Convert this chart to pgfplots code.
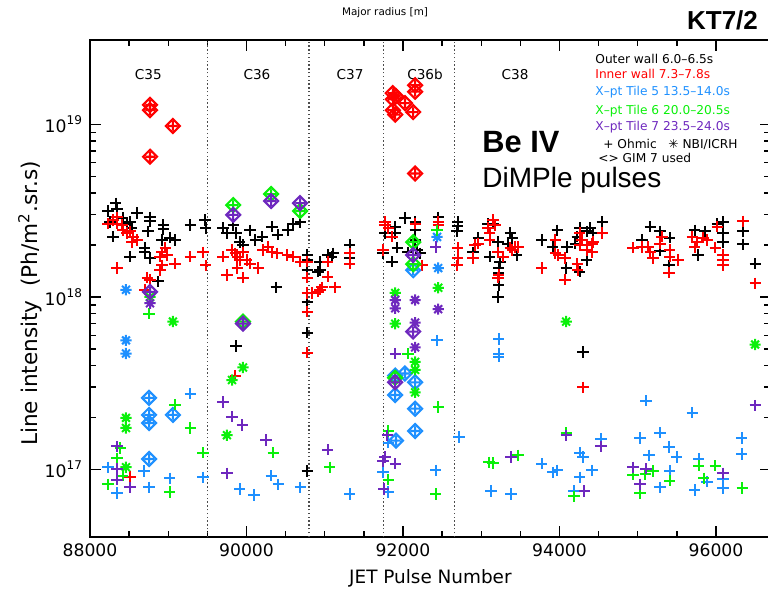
\documentclass[border=0pt]{standalone}
\usepackage{fontspec}
\setmainfont{Liberation Sans}
\newfontfamily\idl{DejaVu Sans}
\usepackage{pgfplots}
\pgfplotsset{compat=1.18}

\definecolor{tileblue}{RGB}{30,144,255}
\definecolor{tilegreen}{RGB}{10,240,10}
\definecolor{tilepurple}{RGB}{110,40,190}
\definecolor{innerred}{RGB}{255,0,0}

% NBI/ICRH symbol: eight-pointed asterisk
\pgfdeclareplotmark{heated}{%
  \pgfpathmoveto{\pgfqpoint{-\pgfplotmarksize}{0pt}}%
  \pgfpathlineto{\pgfqpoint{\pgfplotmarksize}{0pt}}%
  \pgfpathmoveto{\pgfqpoint{0pt}{-\pgfplotmarksize}}%
  \pgfpathlineto{\pgfqpoint{0pt}{\pgfplotmarksize}}%
  \pgfpathmoveto{\pgfqpoint{-0.7\pgfplotmarksize}{-0.7\pgfplotmarksize}}%
  \pgfpathlineto{\pgfqpoint{0.7\pgfplotmarksize}{0.7\pgfplotmarksize}}%
  \pgfpathmoveto{\pgfqpoint{-0.7\pgfplotmarksize}{0.7\pgfplotmarksize}}%
  \pgfpathlineto{\pgfqpoint{0.7\pgfplotmarksize}{-0.7\pgfplotmarksize}}%
  \pgfusepathqstroke}
% GIM 7 symbol: diamond round a plus
\pgfdeclareplotmark{gimdiamond}{%
  \pgfpathmoveto{\pgfqpoint{-1.25\pgfplotmarksize}{0pt}}%
  \pgfpathlineto{\pgfqpoint{0pt}{1.25\pgfplotmarksize}}%
  \pgfpathlineto{\pgfqpoint{1.25\pgfplotmarksize}{0pt}}%
  \pgfpathlineto{\pgfqpoint{0pt}{-1.25\pgfplotmarksize}}%
  \pgfpathclose
  \pgfpathmoveto{\pgfqpoint{-0.85\pgfplotmarksize}{0pt}}%
  \pgfpathlineto{\pgfqpoint{0.85\pgfplotmarksize}{0pt}}%
  \pgfpathmoveto{\pgfqpoint{0pt}{-0.85\pgfplotmarksize}}%
  \pgfpathlineto{\pgfqpoint{0pt}{0.85\pgfplotmarksize}}%
  \pgfusepathqstroke}

\pgfplotsset{
  ohmic/.style={only marks, mark=+, mark size=2.8pt, mark options={line width=1pt}, color=#1},
  nbicrh/.style={only marks, mark=heated, mark size=2.8pt, mark options={line width=1pt}, color=#1},
  gim/.style={only marks, mark=gimdiamond, mark size=2.8pt, mark options={line width=1.05pt}, color=#1},
  campaign/.style={black!70, line width=0.7pt, dash pattern=on 0.7pt off 1.2pt},
}

\begin{document}
\begin{tikzpicture}
\begin{axis}[
  at={(45pt,26pt)}, anchor=south west,
  scale only axis, width=340.4pt, height=248.5pt,
  xmin=88000, xmax=96700,
  ymode=log, ymin=4.06e16, ymax=3.09e19,
  xtick={88000,90000,92000,94000,96000},
  xticklabels={88000,90000,92000,94000,96000},
  scaled x ticks=false,
  minor x tick num=3,
  ytick={1e17,1e18,1e19},
  yticklabels={10\textsuperscript{17},10\textsuperscript{18},10\textsuperscript{19}},
  tick align=inside, xtick pos=both, ytick pos=both,
  major tick length=5.5pt, minor tick length=3.2pt,
  every tick/.style={black, line width=0.7pt},
  axis line style={line width=0.85pt},
  ticklabel style={font=\idl\fontsize{8.6}{10}\selectfont},
  xlabel={JET Pulse Number},
  ylabel={Line intensity\ \ (Ph/m\textsuperscript{2}.sr.s)},
  xlabel style={font=\idl\fontsize{9.2}{11}\selectfont, at={(axis description cs:0.5,0)}, anchor=center, yshift=-20.5pt},
  ylabel style={font=\idl\fontsize{10.8}{12}\selectfont, at={(axis description cs:-0.088,0.47)}, anchor=center},
]

% campaign boundaries
\addplot[campaign] coordinates {(89500,4.06e16) (89500,3.09e19)};
\addplot[campaign] coordinates {(90800,4.06e16) (90800,3.09e19)};
\addplot[campaign] coordinates {(91750,4.06e16) (91750,3.09e19)};
\addplot[campaign] coordinates {(92660,4.06e16) (92660,3.09e19)};

% Outer wall 6.0-6.5 s
\addplot[ohmic=black] coordinates {
(88230,3.15e18) (88330,3.5e18) (88345,3.25e18) (88255,2.72e18) (88420,2.87e18)
(88470,2.66e18) (88510,2.72e18) (88600,3.07e18) (88535,2.51e18) (88295,2.23e18)
(88767,2.9e18) (88767,2.75e18) (88740,2.4e18) (88700,1.93e18) (88700,1.82e18)
(88510,1.71e18) (88767,1.68e18) (88920,2.14e18) (88935,2.61e18) (88935,2.47e18)
(89020,2.2e18) (89085,2.14e18) (88870,1.23e18) (89280,2.61e18) (89470,2.79e18)
(89480,2.51e18) (89700,2.51e18) (89830,2.61e18) (89750,2.35e18) (89865,2.35e18)
(89915,2.08e18) (89955,2.0e18) (90045,2.44e18) (90110,2.14e18) (90200,2.23e18)
(90325,2.55e18) (90400,2.29e18) (90530,2.44e18) (90595,2.66e18) (90685,2.72e18)
(90775,1.75e18) (90775,1.64e18) (90775,1.43e18) (90380,1.14e18) (90775,9.3e17)
(90775,6.2e17) (90915,1.4e18) (89865,5.2e17) (90775,9.8e16) (90940,1.43e18)
(90940,1.6e18) (91040,1.75e18) (91105,1.79e18) (91090,1.71e18) (91320,2.0e18)
(91320,1.68e18) (91770,2.35e18) (91745,1.79e18) (91900,2.55e18) (91900,2.35e18)
(91925,1.93e18) (91860,1.6e18) (92025,2.87e18) (92155,2.72e18) (92155,2.44e18)
(92155,2.14e18) (92180,1.87e18) (92220,1.79e18) (92065,1.82e18) (92450,2.9e18)
(92700,2.72e18) (92700,2.57e18) (92690,2.4e18) (92895,1.82e18) (92960,2.2e18)
(93085,2.66e18) (93150,2.66e18) (93110,1.71e18) (93215,2.08e18) (93240,1.6e18)
(93225,1.47e18) (93225,1.38e18) (93225,1.17e18) (93215,1.0e18) (93370,2.35e18)
(93395,2.2e18) (93340,2.04e18) (93455,1.75e18) (93775,2.14e18) (93970,2.44e18)
(93915,1.95e18) (94095,1.95e18) (94085,1.47e18) (94225,2.23e18) (94200,2.04e18)
(94260,2.51e18) (94350,2.4e18) (94430,2.35e18) (94390,2.51e18) (94545,2.72e18)
(94350,1.64e18) (94260,1.4e18) (94300,4.8e17) (95055,2.14e18) (95160,2.55e18)
(95285,2.4e18) (95285,1.85e18) (95410,2.2e18) (95400,1.53e18) (95730,2.44e18)
(95860,2.4e18) (95770,1.75e18) (96015,2.66e18) (96090,2.72e18) (96090,2.35e18)
(96090,2.08e18) (96345,2.4e18) (96345,2.02e18) (96500,1.56e18)
};

% Inner wall 7.3-7.8 s
\addplot[ohmic=innerred] coordinates {
(88230,2.66e18) (88295,2.79e18) (88345,2.9e18) (88345,2.66e18) (88410,2.61e18)
(88420,2.44e18) (88470,2.35e18) (88510,2.4e18) (88550,2.23e18) (88600,2.14e18)
(88535,2.08e18) (88345,1.47e18) (88730,1.29e18) (88767,1.26e18) (88700,1.10e18)
(88895,1.71e18) (88920,1.82e18) (88960,1.93e18) (88985,1.75e18) (88895,1.43e18)
(88920,1.53e18) (89085,1.56e18) (89280,1.71e18) (89445,1.82e18) (89480,1.53e18)
(89700,1.71e18) (89750,1.34e18) (89815,1.87e18) (89855,1.79e18) (89880,1.71e18)
(89915,1.64e18) (89955,1.82e18) (90005,1.64e18) (90045,1.56e18) (89880,1.47e18)
(89955,1.29e18) (90150,1.47e18) (90210,1.87e18) (90275,1.95e18) (90325,1.82e18)
(90390,1.79e18) (90520,1.75e18) (90595,1.71e18) (90685,1.6e18) (90775,1.6e18)
(90775,1.29e18) (90775,1.055e18) (90775,8.2e17) (90840,1.055e18) (90915,1.07e18)
(90940,1.10e18) (90965,1.14e18) (91130,1.14e18) (91040,1.6e18) (91040,1.31e18)
(91320,1.79e18) (91320,1.56e18) (90775,4.75e17) (89855,3.5e17) (88510,9.1e16)
(91770,2.72e18) (91770,2.61e18) (91810,2.51e18) (91860,2.23e18) (91745,1.87e18)
(92155,2.66e18) (92245,1.53e18) (92450,2.72e18) (92450,2.61e18)
(92700,1.93e18) (92700,1.68e18) (92690,1.53e18) (92895,1.68e18) (92920,2.0e18)
(92960,2.04e18) (93085,2.51e18) (93110,2.35e18) (93150,2.79e18) (93110,2.14e18)
(93175,2.61e18) (93215,1.82e18) (93280,1.71e18) (93370,1.93e18) (93430,1.95e18)
(93395,1.87e18) (93470,1.95e18) (93225,1.34e18) (93215,1.29e18) (93775,1.47e18)
(93945,2.14e18) (93945,1.79e18) (93985,1.75e18) (94070,1.68e18) (94070,1.26e18)
(94225,1.56e18) (94235,1.43e18) (94260,2.35e18) (94285,2.14e18) (94260,2.0e18)
(94350,1.87e18) (94415,2.04e18) (94415,1.82e18) (94430,2.08e18) (94350,2.0e18)
(94545,2.35e18) (94300,3.0e17) (94940,1.93e18) (95055,1.95e18) (95130,1.95e18)
(95160,1.82e18) (95195,1.68e18) (95310,2.23e18) (95285,2.04e18) (95410,1.87e18)
(95410,1.71e18) (95515,1.64e18) (95400,1.38e18) (95695,2.23e18) (95755,2.08e18)
(95730,1.95e18) (95840,2.2e18) (95885,2.14e18) (95990,1.93e18) (96015,2.55e18)
(96090,1.75e18) (96090,1.64e18) (96090,1.53e18) (96345,2.75e18) (96500,1.2e18)
};
\addplot[gim=innerred] coordinates {
(88767,1.3e19) (88767,1.21e19) (89060,9.8e18) (88767,6.5e18)
(91870,1.52e19) (91870,1.4e19) (91910,1.46e19) (92025,1.33e19) (92155,1.69e19)
(92155,1.55e19) (91870,1.21e19) (91900,1.14e19) (92130,1.18e19) (92155,5.2e18)
};

% X-pt Tile 5 13.5-14.0 s
\addplot[ohmic=tileblue] coordinates {
(88230,1.03e17) (88345,7.3e16) (88690,9.8e16) (88755,7.9e16) (89020,8.9e16)
(89280,2.75e17) (89445,9.0e16) (89915,7.7e16) (90095,7.1e16) (90315,9.2e16)
(90405,8.2e16) (90685,7.9e16) (91040,1.30e17) (91320,7.2e16) (91810,1.43e17)
(91745,9.6e16) (91810,7.4e16) (92435,5.6e17) (92420,9.9e16) (92715,1.54e17)
(93225,5.7e17) (93225,4.7e17) (93225,4.5e17) (93125,7.5e16) (93380,7.2e16)
(93775,1.08e17) (93915,9.6e16) (93970,9.9e16) (94260,1.25e17) (94300,1.18e17)
(94260,9.0e16) (94415,9.9e16) (94185,7.5e16) (94530,1.5e17) (95030,1.52e17)
(95105,2.5e17) (95285,1.63e17) (95400,1.35e17) (95500,1.18e17) (95410,9.8e16)
(95285,7.9e16) (95145,1.21e17) (95695,2.13e17) (95730,7.6e16) (95780,1.15e17)
(95885,8.5e16) (96090,8.8e16) (96090,7.8e16) (96330,1.52e17) (96330,1.23e17)
};
\addplot[nbicrh=tileblue] coordinates {
(88460,1.1e18) (88460,5.6e17) (88460,4.7e17) (92435,2.23e18) (92450,1.47e18)
};
\addplot[gim=tileblue] coordinates {
(88755,2.6e17) (88755,2.07e17) (88755,1.86e17) (89060,2.07e17) (88755,1.15e17)
(92130,1.43e18) (91900,3.5e17) (92025,3.6e17) (92155,3.2e17) (91900,2.7e17)
(92155,2.25e17) (92155,1.67e17) (91910,1.47e17)
};

% X-pt Tile 6 20.0-20.5 s
\addplot[ohmic=tilegreen] coordinates {
(88385,1.33e17) (88345,1.16e17) (88420,9.2e16) (88230,8.2e16) (88755,8.0e17)
(89085,2.37e17) (89280,1.74e17) (89020,7.4e16) (89445,1.25e17) (90340,1.25e17)
(91065,1.03e17) (91810,1.67e17) (91810,8.7e16) (92065,4.7e17) (92435,2.44e18)
(92450,2.3e17) (92420,7.2e16) (93100,1.1e17) (93150,1.09e17) (93470,1.21e17)
(94085,1.63e17) (94185,7.0e16) (94940,9.3e16) (95095,9.4e16) (95195,9.8e16)
(95030,7.3e16) (95410,8.6e16) (95780,1.05e17) (95845,8.9e16) (95990,1.05e17)
(96335,7.8e16)
};
\addplot[nbicrh=tilegreen] coordinates {
(88460,1.99e17) (88460,1.74e17) (88460,1.03e17) (88767,1.0e18) (89060,7.2e17)
(89955,3.9e17) (89815,3.3e17) (89750,1.58e17) (91900,1.055e18) (91900,7.0e17)
(92155,4.2e17) (92155,3.78e17) (92155,2.8e17) (92450,1.13e18) (94085,7.2e17)
(96500,5.3e17)
};
\addplot[gim=tilegreen] coordinates {
(89830,3.41e18) (90315,3.95e18) (90685,3.15e18) (89955,7.2e17) (92130,2.08e18)
(92130,1.55e18) (91900,3.4e17)
};

% X-pt Tile 7 23.5-24.0 s
\addplot[ohmic=tilepurple] coordinates {
(88345,1.36e17) (88345,1.01e17) (88345,8.7e16) (88510,7.9e16) (89700,2.46e17)
(89815,2.02e17) (89945,1.81e17) (90250,1.48e17) (89750,9.5e16) (91040,1.30e17)
(91900,4.7e17) (91800,1.58e17) (91770,1.18e17) (91745,1.12e17) (91900,1.08e17)
(91755,7.7e16) (92420,1.95e18) (93380,1.18e17) (94085,1.58e17) (94530,1.36e17)
(94315,7.5e16) (94940,1.03e17) (95105,1.01e17) (95030,8.2e16) (96090,9.5e16)
(96500,2.35e17)
};
\addplot[nbicrh=tilepurple] coordinates {
(88767,9.2e17) (91900,9.6e17) (91900,8.6e17) (92155,9.6e17) (92155,7.1e17)
(92155,5.1e17) (92450,8.5e17)
};
\addplot[gim=tilepurple] coordinates {
(88767,1.07e18) (89830,2.99e18) (90315,3.6e18) (90685,3.5e18) (89955,7.0e17)
(92130,1.75e18) (92130,6.3e17) (91900,3.2e17)
};

% campaign names
\node[font=\idl\fontsize{6.8}{8}\selectfont] at (axis cs:88745,1.94e19) {C35};
\node[font=\idl\fontsize{6.8}{8}\selectfont] at (axis cs:90134,1.94e19) {C36};
\node[font=\idl\fontsize{6.8}{8}\selectfont] at (axis cs:91323,1.94e19) {C37};
\node[font=\idl\fontsize{6.8}{8}\selectfont] at (axis cs:92281,1.94e19) {C36b};
\node[font=\idl\fontsize{6.8}{8}\selectfont] at (axis cs:93432,1.94e19) {C38};
\end{axis}

% key to colours and symbols
\begin{scope}[every node/.style={anchor=west, inner sep=0pt, font=\idl\fontsize{6.1}{7}\selectfont}]
\node[black]      at (297.5pt,265pt)   {Outer wall 6.0–6.5s};
\node[innerred]   at (297.5pt,257.5pt) {Inner wall 7.3–7.8s};
\node[tileblue]   at (297.5pt,248.3pt) {X–pt Tile 5 13.5–14.0s};
\node[tilegreen]  at (297.5pt,239pt)   {X–pt Tile 6 20.0–20.5s};
\node[tilepurple] at (297.5pt,230.8pt) {X–pt Tile 7 23.5–24.0s};
\node[black]      at (301.5pt,222.5pt) {+ Ohmic\ \ \ ✳ NBI/ICRH};
\node[black]      at (299pt,215.3pt)   {<> GIM 7 used};
\end{scope}

\node[font=\idl\fontsize{5.2}{6}\selectfont] at (192.5pt,288pt) {Major radius [m]};
\node[anchor=east, font=\bfseries\fontsize{13}{15}\selectfont] at (382.5pt,284.5pt) {KT7/2};
\node[anchor=west, inner sep=0pt, font=\bfseries\fontsize{15.4}{18}\selectfont] at (241pt,223.5pt) {Be IV};
\node[anchor=west, inner sep=0pt, font=\fontsize{14}{17}\selectfont] at (241pt,204.5pt) {DiMPle pulses};

\pgfresetboundingbox
\path[use as bounding box] (0,0) rectangle (384pt,294.5pt);
\end{tikzpicture}
\end{document}
